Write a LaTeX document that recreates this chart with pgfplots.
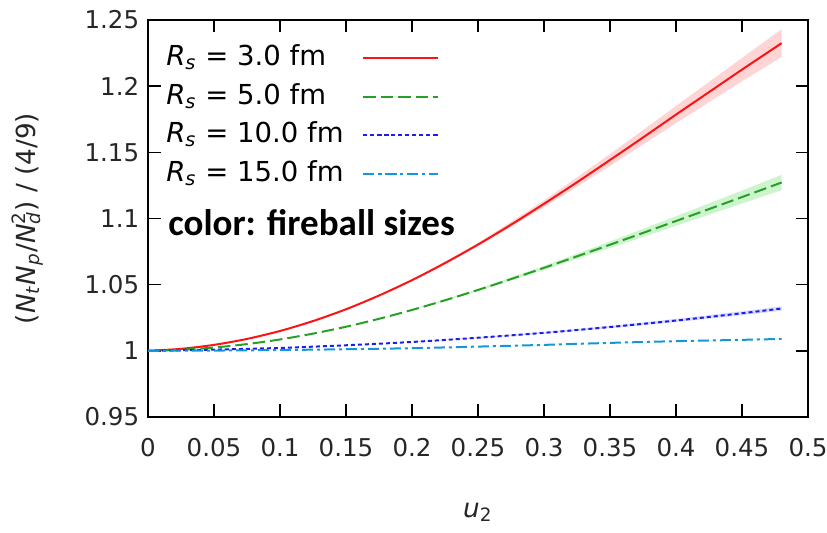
\documentclass[border=0pt]{standalone}
\usepackage{fontspec}
\setmainfont{DejaVu Sans}
\newfontfamily\boldcal{Carlito}
\usepackage{pgfplots}
\pgfplotsset{compat=1.18}

\definecolor{cred}{RGB}{250,20,20}
\definecolor{cgreen}{RGB}{40,160,40}
\definecolor{cblue}{RGB}{30,30,235}
\definecolor{ccyan}{RGB}{20,150,220}
\definecolor{bred}{RGB}{255,212,212}
\definecolor{bgreen}{RGB}{205,245,205}
\definecolor{bblue}{RGB}{218,218,255}

\newcommand{\ssub}[1]{\textsubscript{\textit{#1}}}
\newcommand{\subsup}[2]{\rlap{\textsubscript{\textit{#1}}}\textsuperscript{#2}}
\newcommand{\Rs}{\textit{R}\ssub{s}}

\begin{document}
\begin{tikzpicture}
\begin{axis}[
  name=ax,
  scale only axis,
  width=264pt, height=158.8pt,
  xmin=0, xmax=0.5, ymin=0.95, ymax=1.25,
  xtick={0,0.05,...,0.5}, ytick={0.95,1,1.05,1.1,1.15,1.2,1.25},
  /pgf/number format/fixed, /pgf/number format/precision=2,
  /pgf/number format/assume math mode=true,
  tick label style={font=\fontsize{9.8}{11}\selectfont, text=black!85},
  xticklabel style={yshift=-5pt},
  tick align=inside, major tick length=5pt,
  axis line style={line width=0.8pt},
  every tick/.style={black, line width=0.6pt},
  every axis x label/.style={at={(rel axis cs:0.5,0)}, yshift=-38pt, anchor=center},
  every axis y label/.style={at={(rel axis cs:0,0.5)}, xshift=-48pt, rotate=90, anchor=center},
  label style={font=\fontsize{10.5}{12}\selectfont, text=black!85},
  xlabel={\textit{u}\textsubscript{2}},
  ylabel={(\textit{N}\ssub{t}\textit{N}\ssub{p}/\textit{N}\subsup{d}{2}) / (4/9)},
  legend plot pos=right,
  legend cell align=left,
  legend style={draw=none, fill=none, at={(rel axis cs:0.01,0.962)}, anchor=north west,
    font=\fontsize{11}{13}\selectfont, row sep=1.4pt, column sep=6pt,
    nodes={inner sep=1.5pt, text height=8.5pt, text depth=2.5pt}},
  legend image code/.code={\draw[#1] plot coordinates {(0pt,0pt) (15pt,0pt) (30pt,0pt)};},
]
% uncertainty bands
\addplot[draw=none, fill=bred, forget plot] coordinates {
  (0.2,1.0537) (0.25,1.0815) (0.3,1.1136) (0.35,1.1487) (0.4,1.1850) (0.45,1.2213) (0.48,1.2430)
  (0.48,1.2220) (0.45,1.2037) (0.4,1.1720) (0.35,1.1397) (0.3,1.1086) (0.25,1.0791) (0.2,1.0531)
};
\addplot[draw=none, fill=bgreen, forget plot] coordinates {
  (0.2,1.0312) (0.25,1.0468) (0.3,1.0642) (0.35,1.0827) (0.4,1.1017) (0.45,1.1211) (0.48,1.1330)
  (0.48,1.1214) (0.45,1.1113) (0.4,1.0945) (0.35,1.0777) (0.3,1.0612) (0.25,1.0452) (0.2,1.0306)
};
\addplot[draw=none, fill=bblue, forget plot] coordinates {
  (0.2,1.0069) (0.25,1.0103) (0.3,1.0142) (0.35,1.0189) (0.4,1.0241) (0.45,1.0299) (0.48,1.0337)
  (0.48,1.0303) (0.45,1.0269) (0.4,1.0217) (0.35,1.0171) (0.3,1.0130) (0.25,1.0095) (0.2,1.0065)
};
% central curves
\addplot[cred, line width=0.8pt, smooth] coordinates {
  (0,1.000) (0.025,1.0015) (0.05,1.0045) (0.075,1.009) (0.1,1.015) (0.125,1.0225)
  (0.15,1.0314) (0.175,1.0418) (0.2,1.0534) (0.225,1.0663) (0.25,1.0803) (0.275,1.0953)
  (0.3,1.1111) (0.325,1.1274) (0.35,1.1442) (0.375,1.1612) (0.4,1.1785) (0.425,1.1955)
  (0.45,1.2125) (0.48,1.2325)
};
\addlegendentry{\Rs{} = 3.0 fm}
\addplot[cgreen, line width=0.8pt, smooth, dash pattern=on 5pt off 2pt] coordinates {
  (0,1.000) (0.025,1.0008) (0.05,1.0025) (0.075,1.0051) (0.1,1.0086) (0.125,1.0130)
  (0.15,1.0182) (0.175,1.0242) (0.2,1.0309) (0.225,1.0382) (0.25,1.0460) (0.275,1.0542)
  (0.3,1.0627) (0.325,1.0714) (0.35,1.0802) (0.375,1.0891) (0.4,1.0981) (0.425,1.1071)
  (0.45,1.1162) (0.48,1.1272)
};
\addlegendentry{\Rs{} = 5.0 fm}
\addplot[cblue, line width=0.8pt, smooth, dash pattern=on 1.6pt off 1.2pt] coordinates {
  (0,1.000) (0.05,1.0009) (0.1,1.0022) (0.15,1.0042) (0.2,1.0067) (0.25,1.0099)
  (0.3,1.0136) (0.35,1.0180) (0.4,1.0229) (0.45,1.0284) (0.48,1.0320)
};
\addlegendentry{\Rs{} = 10.0 fm}
\addplot[ccyan, line width=0.8pt, smooth, dash pattern=on 4.4pt off 1.6pt on 1.2pt off 1.6pt] coordinates {
  (0,1.000) (0.05,1.0002) (0.1,1.0006) (0.15,1.0012) (0.2,1.002) (0.25,1.0032)
  (0.3,1.0045) (0.35,1.006) (0.4,1.0073) (0.45,1.0083) (0.48,1.009)
};
\addlegendentry{\Rs{} = 15.0 fm}
\node[anchor=west, font=\boldcal\bfseries\fontsize{14.8}{17}\selectfont, inner sep=0pt]
  at (axis cs:0.015,1.097) {color: fireball sizes};
\end{axis}
\pgfresetboundingbox
\path ([shift={(-59.2pt,-46.4pt)}]ax.south west) rectangle ([shift={(7.6pt,8pt)}]ax.north east);
\end{tikzpicture}
\end{document}
